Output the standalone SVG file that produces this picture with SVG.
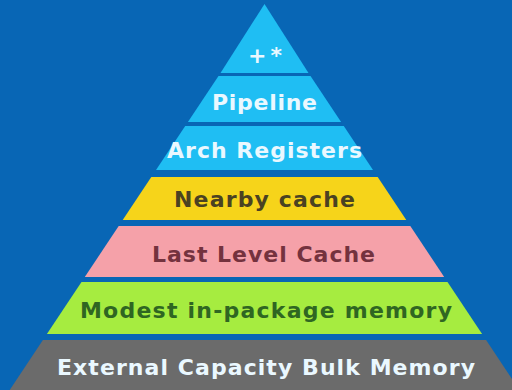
<svg xmlns="http://www.w3.org/2000/svg" width="512" height="390" viewBox="0 0 512 390">
<style>
.t{font-family:"DejaVu Sans","Liberation Sans",sans-serif;font-weight:bold;font-size:22px;text-anchor:middle}
.w{fill:#eaf8ff}
.blue{fill:#1fbef3}
</style>
<rect x="0" y="0" width="512" height="390" fill="#0866b5"/>
<g id="layer-top">
<polygon class="blue" points="264.5,4 308.5,73 220.5,73"/>
<text class="t w" x="265" y="63" textLength="34" lengthAdjust="spacing">+*</text>
</g>
<g id="layer-pipeline">
<polygon class="blue" points="218.5,76 310.5,76 341.1,122 187.9,122"/>
<text class="t w" x="264.5" y="110" textLength="105" lengthAdjust="spacing">Pipeline</text>
</g>
<g id="layer-arch">
<polygon class="blue" points="185.2,126 343.8,126 373,170 156,170"/>
<text class="t w" x="264.5" y="158" textLength="195" lengthAdjust="spacing">Arch Registers</text>
</g>
<g id="layer-nearby">
<polygon fill="#f6d41a" points="151.3,177 377.7,177 406.3,220 122.7,220"/>
<text class="t" fill="#4a4222" x="264.5" y="207" textLength="181" lengthAdjust="spacing">Nearby cache</text>
</g>
<g id="layer-llc">
<polygon fill="#f5a1a9" points="118.7,226 410.3,226 444.2,277 84.8,277"/>
<text class="t" fill="#74323e" x="263.5" y="262" textLength="223" lengthAdjust="spacing">Last Level Cache</text>
</g>
<g id="layer-modest">
<polygon fill="#a6ec40" points="81.5,282 447.5,282 482.1,334 46.9,334"/>
<text class="t" fill="#2f6622" x="266" y="318" textLength="372" lengthAdjust="spacing">Modest in-package memory</text>
</g>
<g id="layer-external">
<polygon fill="#6b6b6b" points="42.9,340 486.1,340 519.3,390 9.7,390"/>
<text class="t w" x="266" y="375" textLength="418" lengthAdjust="spacing">External Capacity Bulk Memory</text>
</g>
<g id="connectors"></g>
</svg>
